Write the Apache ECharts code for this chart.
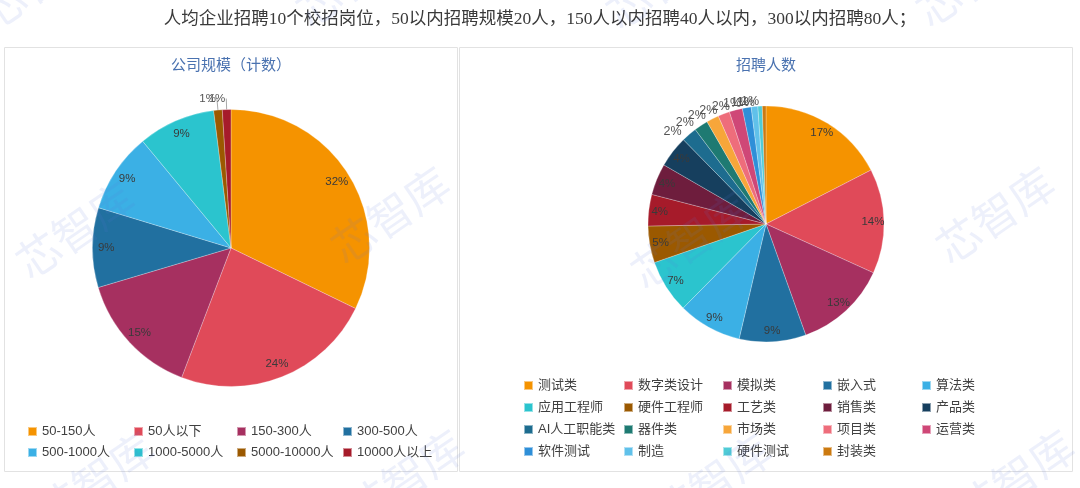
<!DOCTYPE html>
<html>
<head>
<meta charset="utf-8">
<script src="https://cdn.jsdelivr.net/npm/echarts@6/dist/echarts.min.js"></script>
<style>
html,body{margin:0;padding:0;background:#fff;}
#main{width:1080px;height:488px;}
</style>
</head>
<body>
<div id="main"></div>
<script>
// ---- data ----
const headline = '人均企业招聘10个校招岗位，50以内招聘规模20人，150人以内招聘40人以内，300以内招聘80人；';
const sizeTitle = '公司规模（计数）';
const sizeCats = ['50-150人', '50人以下', '150-300人', '300-500人', '500-1000人', '1000-5000人', '5000-10000人', '10000人以上'];
const sizeValues = [32.2, 23.6, 14.6, 9.3, 9.3, 9.0, 1.0, 1.0];
const jobTitle = '招聘人数';
const jobCats = ['测试类', '数字类设计', '模拟类', '嵌入式', '算法类', '应用工程师', '硬件工程师', '工艺类', '销售类', '产品类',
  'AI人工职能类', '器件类', '市场类', '项目类', '运营类', '软件测试', '制造', '硬件测试', '封装类'];
const jobValues = [17.4, 14.3, 12.7, 9.1, 8.7, 7.3, 5.0, 4.3, 4.3, 4.3, 2.1, 1.9, 1.7, 1.6, 1.8, 1.2, 0.9, 0.6, 0.5];
const watermarkText = '芯智库';

// ---- styles ----
const palette = ['#F59300', '#E04A59', '#A63060', '#2170A0', '#3BB0E5', '#2BC4CE', '#9B5900', '#A61B2A', '#6E1D3D', '#163F5E',
  '#1D6C8F', '#1E7A72', '#F7A63A', '#EE6D7B', '#CF4777', '#2E8FD8', '#60C1EA', '#4FCBD6', '#CC7A10'];
const FONT = '"Liberation Sans", "Noto Sans CJK SC", sans-serif';
const THRESH = 3; // percent at or above which labels sit inside

function total(arr) { return arr.reduce((a, b) => a + b, 0); }

function mainData(cats, vals, outsideOpts) {
  const t = total(vals);
  return cats.map((n, i) => {
    const small = vals[i] / t * 100 < THRESH;
    return {
      name: n, value: vals[i],
      itemStyle: { color: palette[i] },
      label: { show: small },
      labelLine: { show: small && outsideOpts.line }
    };
  });
}
function ringData(cats, vals) {
  const t = total(vals);
  return cats.map((n, i) => {
    const big = vals[i] / t * 100 >= THRESH;
    return { name: n, value: vals[i], label: { show: big } };
  });
}
const pctFmt = p => Math.round(p.percent) + '%';

function legendColumns(names, cols, xs, top, gap) {
  const rows = Math.ceil(names.length / cols);
  const out = [];
  for (let c = 0; c < cols; c++) {
    const items = [];
    for (let r = 0; r < rows; r++) {
      const k = r * cols + c;
      if (k < names.length) items.push(names[k]);
    }
    out.push({
      data: items, orient: 'vertical', left: xs[c], top: top, padding: 0,
      itemWidth: 9, itemHeight: 9, itemGap: gap, icon: 'rect', selectedMode: false,
      textStyle: { fontSize: 13, color: '#404040', fontFamily: FONT }
    });
  }
  return out;
}

const legends = [].concat(
  legendColumns(sizeCats, 4, [27, 133, 236, 342], 425, 8),
  legendColumns(jobCats, 5, [523, 623, 722, 822, 921], 379, 9)
);

// watermarks
const wmPos = [[75, 230], [390, 215], [690, 240], [995, 215], [95, 480], [405, 478], [712, 482], [1015, 478], [40, -20], [355, -22], [665, -20], [975, -22]];
const watermarks = wmPos.map(p => ({
  type: 'text', x: p[0], y: p[1], rotation: 0.6, z: 100, silent: true,
  style: { text: watermarkText, fontSize: 44, fontFamily: '"Noto Sans CJK SC", sans-serif', fill: 'rgba(90,120,220,0.11)',
    textAlign: 'center', textVerticalAlign: 'middle', align: 'center', verticalAlign: 'middle' }
}));

const graphics = [
  { type: 'rect', z: -10, shape: { x: 4.5, y: 47.5, width: 453, height: 424 }, style: { fill: '#fff', stroke: '#e2e2e2', lineWidth: 1 } },
  { type: 'rect', z: -10, shape: { x: 459.5, y: 47.5, width: 613, height: 424 }, style: { fill: '#fff', stroke: '#e2e2e2', lineWidth: 1 } },
  { type: 'text', x: 540, y: 19, style: { text: headline, fontSize: 17.5, fontFamily: '"Liberation Serif", "Noto Sans CJK SC", serif', fill: '#3a3a3a',
    textAlign: 'center', textVerticalAlign: 'middle', align: 'center', verticalAlign: 'middle' } },
  { type: 'text', x: 231, y: 66, style: { text: sizeTitle, fontSize: 15, fontFamily: FONT, fill: '#4A72B0',
    textAlign: 'center', textVerticalAlign: 'middle', align: 'center', verticalAlign: 'middle' } },
  { type: 'text', x: 766, y: 66, style: { text: jobTitle, fontSize: 15, fontFamily: FONT, fill: '#4A72B0',
    textAlign: 'center', textVerticalAlign: 'middle', align: 'center', verticalAlign: 'middle' } }
].concat(watermarks);

const insideLabel = { position: 'inside', formatter: pctFmt, fontSize: 11.5, color: '#3a3a3a', fontFamily: FONT };
const noHide = { hideOverlap: false, moveOverlap: false };

const option = {
  animation: false,
  legend: legends,
  graphic: { elements: graphics },
  series: [
    {
      type: 'pie', center: [231, 248], radius: 138.5, avoidLabelOverlap: false, startAngle: 90,
      minShowLabelAngle: 0, labelLayout: noHide,
      itemStyle: { borderColor: 'rgba(255,255,255,0.5)', borderWidth: 0.5 },
      label: { position: 'outside', formatter: pctFmt, fontSize: 11.5, color: '#555', fontFamily: FONT, distanceToLabelLine: 1 },
      labelLine: { length: 11, length2: 0, lineStyle: { color: '#aaa', width: 1 } },
      emphasis: { disabled: true },
      data: mainData(sizeCats, sizeValues, { line: true })
    },
    {
      type: 'pie', center: [766, 224], radius: 118, avoidLabelOverlap: false, startAngle: 90,
      minShowLabelAngle: 0, labelLayout: noHide,
      itemStyle: { borderColor: 'rgba(255,255,255,0.5)', borderWidth: 0.5 },
      label: { position: 'outside', formatter: pctFmt, fontSize: 12.5, color: '#555', fontFamily: FONT, rotate: 'tangential' },
      labelLine: { show: false, length: 4, length2: 0 },
      emphasis: { disabled: true },
      data: mainData(jobCats, jobValues, { line: false })
    },
    {
      type: 'pie', center: [231, 248], radius: [105, 138.5], silent: true, avoidLabelOverlap: false, startAngle: 90,
      labelLayout: noHide,
      itemStyle: { color: 'rgba(0,0,0,0)' }, label: insideLabel, labelLine: { show: false },
      data: ringData(sizeCats, sizeValues)
    },
    {
      type: 'pie', center: [766, 224], radius: [90, 118], silent: true, avoidLabelOverlap: false, startAngle: 90,
      labelLayout: noHide,
      itemStyle: { color: 'rgba(0,0,0,0)' }, label: insideLabel, labelLine: { show: false },
      data: ringData(jobCats, jobValues)
    }
  ]
};

const chart = echarts.init(document.getElementById('main'), null, { renderer: 'canvas' });
chart.setOption(option);
</script>
</body>
</html>
